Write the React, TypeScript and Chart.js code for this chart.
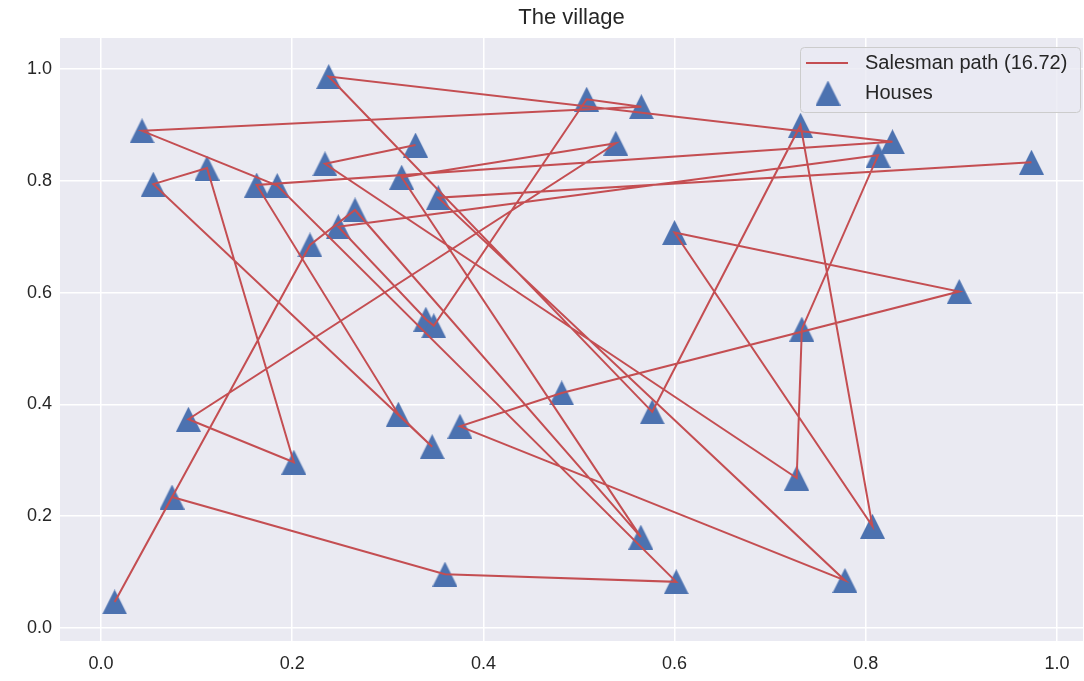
import React, { useEffect, useRef } from 'react';
import { Chart, registerables } from 'chart.js';

Chart.register(...registerables);

// Houses (H1..H40) coordinates
const houseX = [0.0143, 0.0743, 0.0914, 0.2017, 0.0429, 0.0547, 0.1109, 0.1628, 0.1843, 0.2382,
  0.2343, 0.2186, 0.2482, 0.2657, 0.3145, 0.329, 0.3528, 0.3398, 0.3481, 0.311,
  0.3464, 0.3755, 0.3598, 0.4819, 0.508, 0.5652, 0.5385, 0.5647, 0.5766, 0.5999,
  0.6017, 0.7317, 0.7331, 0.7277, 0.7782, 0.807, 0.8128, 0.8279, 0.8977, 0.9733];
const houseY = [0.0465, 0.2343, 0.3735, 0.2966, 0.8894, 0.794, 0.8229, 0.7925, 0.7916, 0.9866,
  0.8304, 0.6852, 0.7179, 0.7478, 0.8065, 0.864, 0.7698, 0.5524, 0.5406, 0.3825,
  0.3244, 0.3608, 0.0963, 0.4204, 0.946, 0.9326, 0.8671, 0.1625, 0.3867, 0.7075,
  0.0826, 0.8995, 0.5346, 0.2683, 0.085, 0.1819, 0.8456, 0.8698, 0.602, 0.8333];

// Visiting order of the salesman (1-based house numbers)
const pathOrder = [40, 17, 35, 22, 24, 39, 30, 36, 32, 29, 10, 38, 8, 20, 21, 6, 7, 4, 3, 27,
  15, 28, 14, 12, 1, 2, 23, 31, 9, 5, 26, 25, 19, 18, 13, 37, 33, 34, 11, 16];

const xTicks = [0, 0.2, 0.4, 0.6, 0.8, 1.0];
const yTicks = [0, 0.2, 0.4, 0.6, 0.8, 1.0];

const pathLength = 16.72;
const titleText = 'The village';
const pathLabel = `Salesman path (${pathLength.toFixed(2)})`;
const houseLabel = 'Houses';

const RED = '#C44E52';
const BLUE = '#4C72B0';
const FONT = '"Liberation Sans", Arial, sans-serif';

function makeTriangle(size: number, color: string) {
  const c = document.createElement('canvas');
  c.width = size;
  c.height = size;
  const g = c.getContext('2d')!;
  g.fillStyle = color;
  g.beginPath();
  g.moveTo(size / 2, 0);
  g.lineTo(size, size);
  g.lineTo(0, size);
  g.closePath();
  g.fill();
  return c;
}

export default function App() {
  const ref = useRef<HTMLCanvasElement | null>(null);

  useEffect(() => {
    document.body.style.margin = '0';
    const tri = makeTriangle(25, BLUE);

    const bgPlugin = {
      id: 'bgPlugin',
      beforeDraw(chart: any) {
        const { ctx, chartArea } = chart;
        ctx.save();
        ctx.fillStyle = '#EAEAF2';
        ctx.fillRect(chartArea.left, chartArea.top, chartArea.right - chartArea.left, chartArea.bottom - chartArea.top);
        ctx.restore();
      },
    };

    const legendPlugin = {
      id: 'legendPlugin',
      afterDraw(chart: any) {
        const ctx = chart.ctx;
        const x0 = 800.5, y0 = 47.5, w = 280, h = 65, r = 4;
        ctx.save();
        ctx.beginPath();
        ctx.moveTo(x0 + r, y0);
        ctx.lineTo(x0 + w - r, y0);
        ctx.quadraticCurveTo(x0 + w, y0, x0 + w, y0 + r);
        ctx.lineTo(x0 + w, y0 + h - r);
        ctx.quadraticCurveTo(x0 + w, y0 + h, x0 + w - r, y0 + h);
        ctx.lineTo(x0 + r, y0 + h);
        ctx.quadraticCurveTo(x0, y0 + h, x0, y0 + h - r);
        ctx.lineTo(x0, y0 + r);
        ctx.quadraticCurveTo(x0, y0, x0 + r, y0);
        ctx.closePath();
        ctx.fillStyle = 'rgba(234,234,242,0.8)';
        ctx.fill();
        ctx.strokeStyle = '#CCCCCC';
        ctx.lineWidth = 1;
        ctx.stroke();

        ctx.strokeStyle = RED;
        ctx.lineWidth = 2;
        ctx.beginPath();
        ctx.moveTo(806, 63);
        ctx.lineTo(848, 63);
        ctx.stroke();

        ctx.drawImage(tri, 828 - 12.5, 93 - 12.5);

        ctx.fillStyle = '#262626';
        ctx.font = `20px ${FONT}`;
        ctx.textBaseline = 'middle';
        ctx.textAlign = 'left';
        ctx.fillText(pathLabel, 865, 63);
        ctx.fillText(houseLabel, 865, 93);
        ctx.restore();
      },
    };

    const pathData = pathOrder.map((n) => ({ x: houseX[n - 1], y: houseY[n - 1] }));
    const houseData = houseX.map((x, i) => ({ x, y: houseY[i] }));

    const tickFont = { family: FONT, size: 18 };
    const noPad = (s: any) => { s.paddingLeft = 0; s.paddingRight = 0; s.paddingTop = 0; s.paddingBottom = 0; };

    const chart = new Chart(ref.current!, {
      type: 'scatter',
      data: {
        datasets: [
          {
            label: pathLabel,
            data: pathData,
            showLine: true,
            borderColor: RED,
            backgroundColor: RED,
            borderWidth: 2,
            pointRadius: 0,
            pointHoverRadius: 0,
            order: 0,
          } as any,
          {
            label: houseLabel,
            data: houseData,
            pointStyle: tri as any,
            pointRadius: 12,
            pointHoverRadius: 12,
            backgroundColor: BLUE,
            borderColor: BLUE,
            order: 1,
          } as any,
        ],
      },
      options: {
        responsive: false,
        animation: false,
        devicePixelRatio: 1,
        events: [],
        layout: { autoPadding: false, padding: { left: 0, right: 1, top: 0, bottom: 0 } },
        plugins: {
          legend: { display: false },
          tooltip: { enabled: false },
          title: {
            display: true,
            fullSize: false,
            text: titleText,
            color: '#262626',
            font: { family: FONT, size: 22, weight: 'normal' as any, lineHeight: 1.2 },
            padding: { top: 5, bottom: 6.6 },
          },
        },
        scales: {
          x: {
            type: 'linear',
            min: -0.0429,
            max: 1.0272,
            border: { display: false },
            grid: { color: '#FFFFFF', lineWidth: 1.5, drawTicks: false },
            afterBuildTicks: (s: any) => { s.ticks = xTicks.map((v) => ({ value: v })); },
            ticks: {
              color: '#262626',
              font: tickFont,
              padding: 12,
              maxRotation: 0,
              autoSkip: false,
              callback: (v: any) => Number(v).toFixed(1),
            },
            afterFit: (s: any) => { s.height = 40; noPad(s); },
          },
          y: {
            type: 'linear',
            min: -0.0233,
            max: 1.0555,
            border: { display: false },
            grid: { color: '#FFFFFF', lineWidth: 1.5, drawTicks: false },
            afterBuildTicks: (s: any) => { s.ticks = yTicks.map((v) => ({ value: v })); },
            ticks: {
              color: '#262626',
              font: tickFont,
              padding: 8,
              autoSkip: false,
              callback: (v: any) => Number(v).toFixed(1),
            },
            afterFit: (s: any) => { s.width = 60; noPad(s); },
          },
        },
      },
      plugins: [bgPlugin, legendPlugin],
    });

    return () => chart.destroy();
  }, []);

  return <canvas ref={ref} width={1084} height={681} style={{ display: 'block' }} />;
}
